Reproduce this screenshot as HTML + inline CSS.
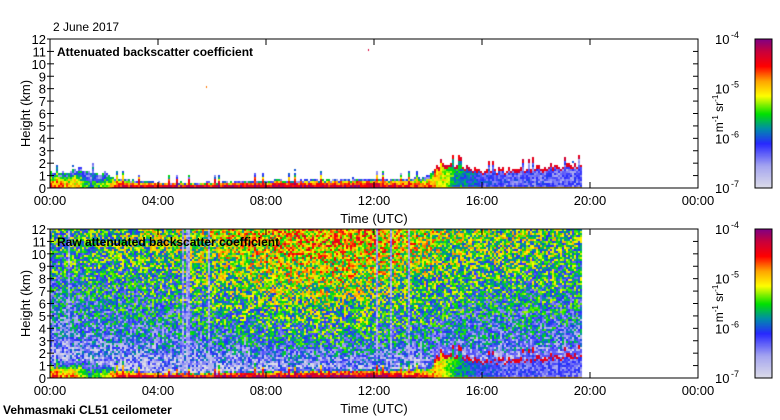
<!DOCTYPE html>
<html><head><meta charset="utf-8">
<style>
body{margin:0;background:#fff;}
#wrap{position:relative;width:780px;height:420px;overflow:hidden;font-family:"Liberation Sans",sans-serif;}
canvas{position:absolute;}
svg{position:absolute;left:0;top:0;}
</style></head>
<body>
<div id="wrap">
<canvas id="c1" width="648" height="149" style="left:50px;top:39px"></canvas>
<canvas id="c2" width="648" height="149" style="left:50px;top:229px"></canvas>
<canvas id="cb1" width="17" height="149" style="left:755px;top:39px"></canvas>
<canvas id="cb2" width="17" height="149" style="left:755px;top:229px"></canvas>
<svg id="ax" width="780" height="420"></svg>
</div>
<script>
// ---- data ----
const hours   = [0, 0.5, 1, 1.5, 2, 2.5, 3, 4, 6, 8, 10, 12, 13, 14, 14.5, 15, 16, 17, 18, 19, 19.67];
const blh     = [1.3, 1.2, 1.6, 1.3, 1.2, 0.8, 0.6, 0.45, 0.45, 0.6, 0.7, 0.75, 0.7, 0.9, 2.2, 1.9, 1.4, 1.5, 1.7, 1.8, 1.9];
const bodyLvl = [0.7, 0.65, 0.6, 0.35, 0.5, 0.75, 0.8, 0.85, 0.85, 0.85, 0.85, 0.85, 0.8, 0.7, 0.6, 0.4, 0.25, 0.2, 0.2, 0.18, 0.18];
const skyLvl  = [0.44, 0.44, 0.46, 0.48, 0.48, 0.5, 0.5, 0.52, 0.58, 0.66, 0.7, 0.68, 0.64, 0.6, 0.57, 0.55, 0.53, 0.52, 0.52, 0.5, 0.48];
const gapHours = [0.7, 4.95, 5.05, 5.15, 5.9, 12.1, 12.6, 13.3];
const xTicks = ["00:00","04:00","08:00","12:00","16:00","20:00","00:00"];
const yTicks = [0,1,2,3,4,5,6,7,8,9,10,11,12];
const cbLabels = ["-4","-5","-6","-7"];
const endHour = 19.67;

const X0=50, W=648, H=149, PXH=W/24;
function interp(arr,t){
  if(t<=hours[0])return arr[0];
  for(let i=1;i<hours.length;i++){ if(t<=hours[i]){const f=(t-hours[i-1])/(hours[i]-hours[i-1]);return arr[i-1]+f*(arr[i]-arr[i-1]);} }
  return arr[arr.length-1];
}
function hash(a,b){let h=(a*374761393+b*668265263)|0;h=(h^(h>>>13))*1274126177|0;return ((h^(h>>>16))>>>0)/4294967296;}
const stops=[[0,[222,222,232]],[0.15,[165,165,240]],[0.3,[40,40,255]],[0.4,[0,140,170]],[0.5,[0,225,0]],[0.62,[255,255,0]],[0.72,[255,165,0]],[0.82,[255,0,0]],[0.92,[200,0,60]],[1,[130,0,130]]];
function cmap(v){v=Math.max(0,Math.min(1,v));for(let i=1;i<stops.length;i++){if(v<=stops[i][0]){const a=stops[i-1],b=stops[i],f=(v-a[0])/(b[0]-a[0]);return 'rgb('+[0,1,2].map(k=>Math.round(a[1][k]+f*(b[1][k]-a[1][k]))).join(',')+')';}}return 'rgb(130,0,130)';}

function draw(id,raw){
  const ctx=document.getElementById(id).getContext('2d');
  const cw=2,ch=2;
  for(let px=0;px<W;px+=cw){
    const t=(px+1)/PXH; if(t>endHour)break;
    const top=interp(blh,t), body=interp(bodyLvl,t), sky=interp(skyLvl,t);
    const isGap=gapHours.some(g=>Math.abs(g-t)<0.03);
    const spike=hash(px,7);
    const edge=top*(0.85+0.3*spike)+(spike>0.9?0.5:0);
    for(let py=0;py<H;py+=ch){
      const h=(H-py-1)/H*12;
      const n=hash(px,py+(raw?999:0));
      let v=null;
      if(h<edge){
        const fr=h/edge;
        if(t>14.2){
          v = (fr>0.85)?0.82+0.1*n:(h<0.15?0.7:body+0.2*(n-0.3));
        } else {
          v = body+0.1*(1-fr)-0.4*fr*fr+0.25*(n-0.5);
          if(fr>0.75)v=0.15+0.35*n;
        }
      } else if(raw){
        const g=Math.pow(Math.max(0,Math.min(1,(h-0.5)/10.5)),0.7);
        let s=sky;
        v=s*(0.3+0.7*g)+0.45*(n-0.5);
        if(h<3) v-=0.12*(3-h)/3;
        if(isGap) v=0.05+0.2*n;
        if(h<edge+0.6 && t>14.2) v=Math.min(v,0.25);
      } else if(n>0.997 && h<edge+0.5){v=0.35;}
      if(v!==null){ctx.fillStyle=cmap(v);ctx.fillRect(px,py,cw,ch);}
    }
  }
}
draw('c1',false); draw('c2',true);
(function(){const c=document.getElementById('c1').getContext('2d');c.fillStyle='rgb(255,120,0)';c.fillRect(156,47,1,2);c.fillStyle='rgb(220,0,60)';c.fillRect(318,10,1,2);})();
['cb1','cb2'].forEach(id=>{const c=document.getElementById(id).getContext('2d');for(let y=0;y<H;y++){c.fillStyle=cmap(1-y/H);c.fillRect(0,y,17,1);}});

// ---- axes ----
const svg=document.getElementById('ax');const NS='http://www.w3.org/2000/svg';
function el(tag,attrs,txt){const e=document.createElementNS(NS,tag);for(const k in attrs)e.setAttribute(k,attrs[k]);if(txt!==undefined)e.textContent=txt;svg.appendChild(e);return e;}
function panel(y0,title,pname){
  const y1=y0+H;
  const fr=el('rect',{x:X0,y:y0,width:W,height:H,fill:'none',stroke:'#000','stroke-width':1});
  
  
  yTicks.forEach(v=>{const y=y1-v*H/12;
    el('line',{x1:X0-3,x2:X0+4,y1:y,y2:y,stroke:'#000'});
    el('line',{x1:X0+W-5,x2:X0+W,y1:y,y2:y,stroke:'#000'});
    const t=el('text',{x:X0-4,y:y+5,'text-anchor':'end','font-size':13},v);
    
    });
  xTicks.forEach((s,i)=>{const x=X0+i*4*PXH;
    el('line',{x1:x,x2:x,y1:y1,y2:y1-6,stroke:'#000'});
    el('line',{x1:x,x2:x,y1:y0,y2:y0+6,stroke:'#000'});
    const t=el('text',{x:x,y:y1+17,'text-anchor':'middle','font-size':13},s);
    
    });
  const yl=el('text',{x:0,y:0,'text-anchor':'middle','font-size':13,transform:`translate(30,${(y0+y1)/2}) rotate(-90)`},'Height (km)');
  
  
  const xl=el('text',{x:374,y:y1+35,'text-anchor':'middle','font-size':13},'Time (UTC)');
  
  
  const tt=el('text',{x:57,y:y0+17,'font-size':12,'font-weight':'bold'},title);
  
  
  el('rect',{x:755,y:y0,width:17,height:H,fill:'none',stroke:'#000'});
  cbLabels.forEach((e,i)=>{const y=y0+i*H/3;
    const t=el('text',{x:715,y:y+5,'font-size':13},'10');
    
    
    el('text',{x:731,y:y-1,'font-size':9},e);});
  const u=el('text',{x:0,y:0,'text-anchor':'middle','font-size':12,transform:`translate(723,${(y0+y1)/2}) rotate(-90)`});
  
  
  u.innerHTML='m<tspan dy="-5" font-size="8">-1</tspan><tspan dy="5"> sr</tspan><tspan dy="-5" font-size="8">-1</tspan>';
}
panel(39,'Attenuated backscatter coefficient','top-panel');
panel(229,'Raw attenuated backscatter coefficient','bottom-panel');
const d=el('text',{x:53,y:31,'font-size':12},'2 June 2017');


const s=el('text',{x:3,y:414,'font-size':12,'font-weight':'bold'},'Vehmasmaki CL51 ceilometer');


</script>
</body></html>
